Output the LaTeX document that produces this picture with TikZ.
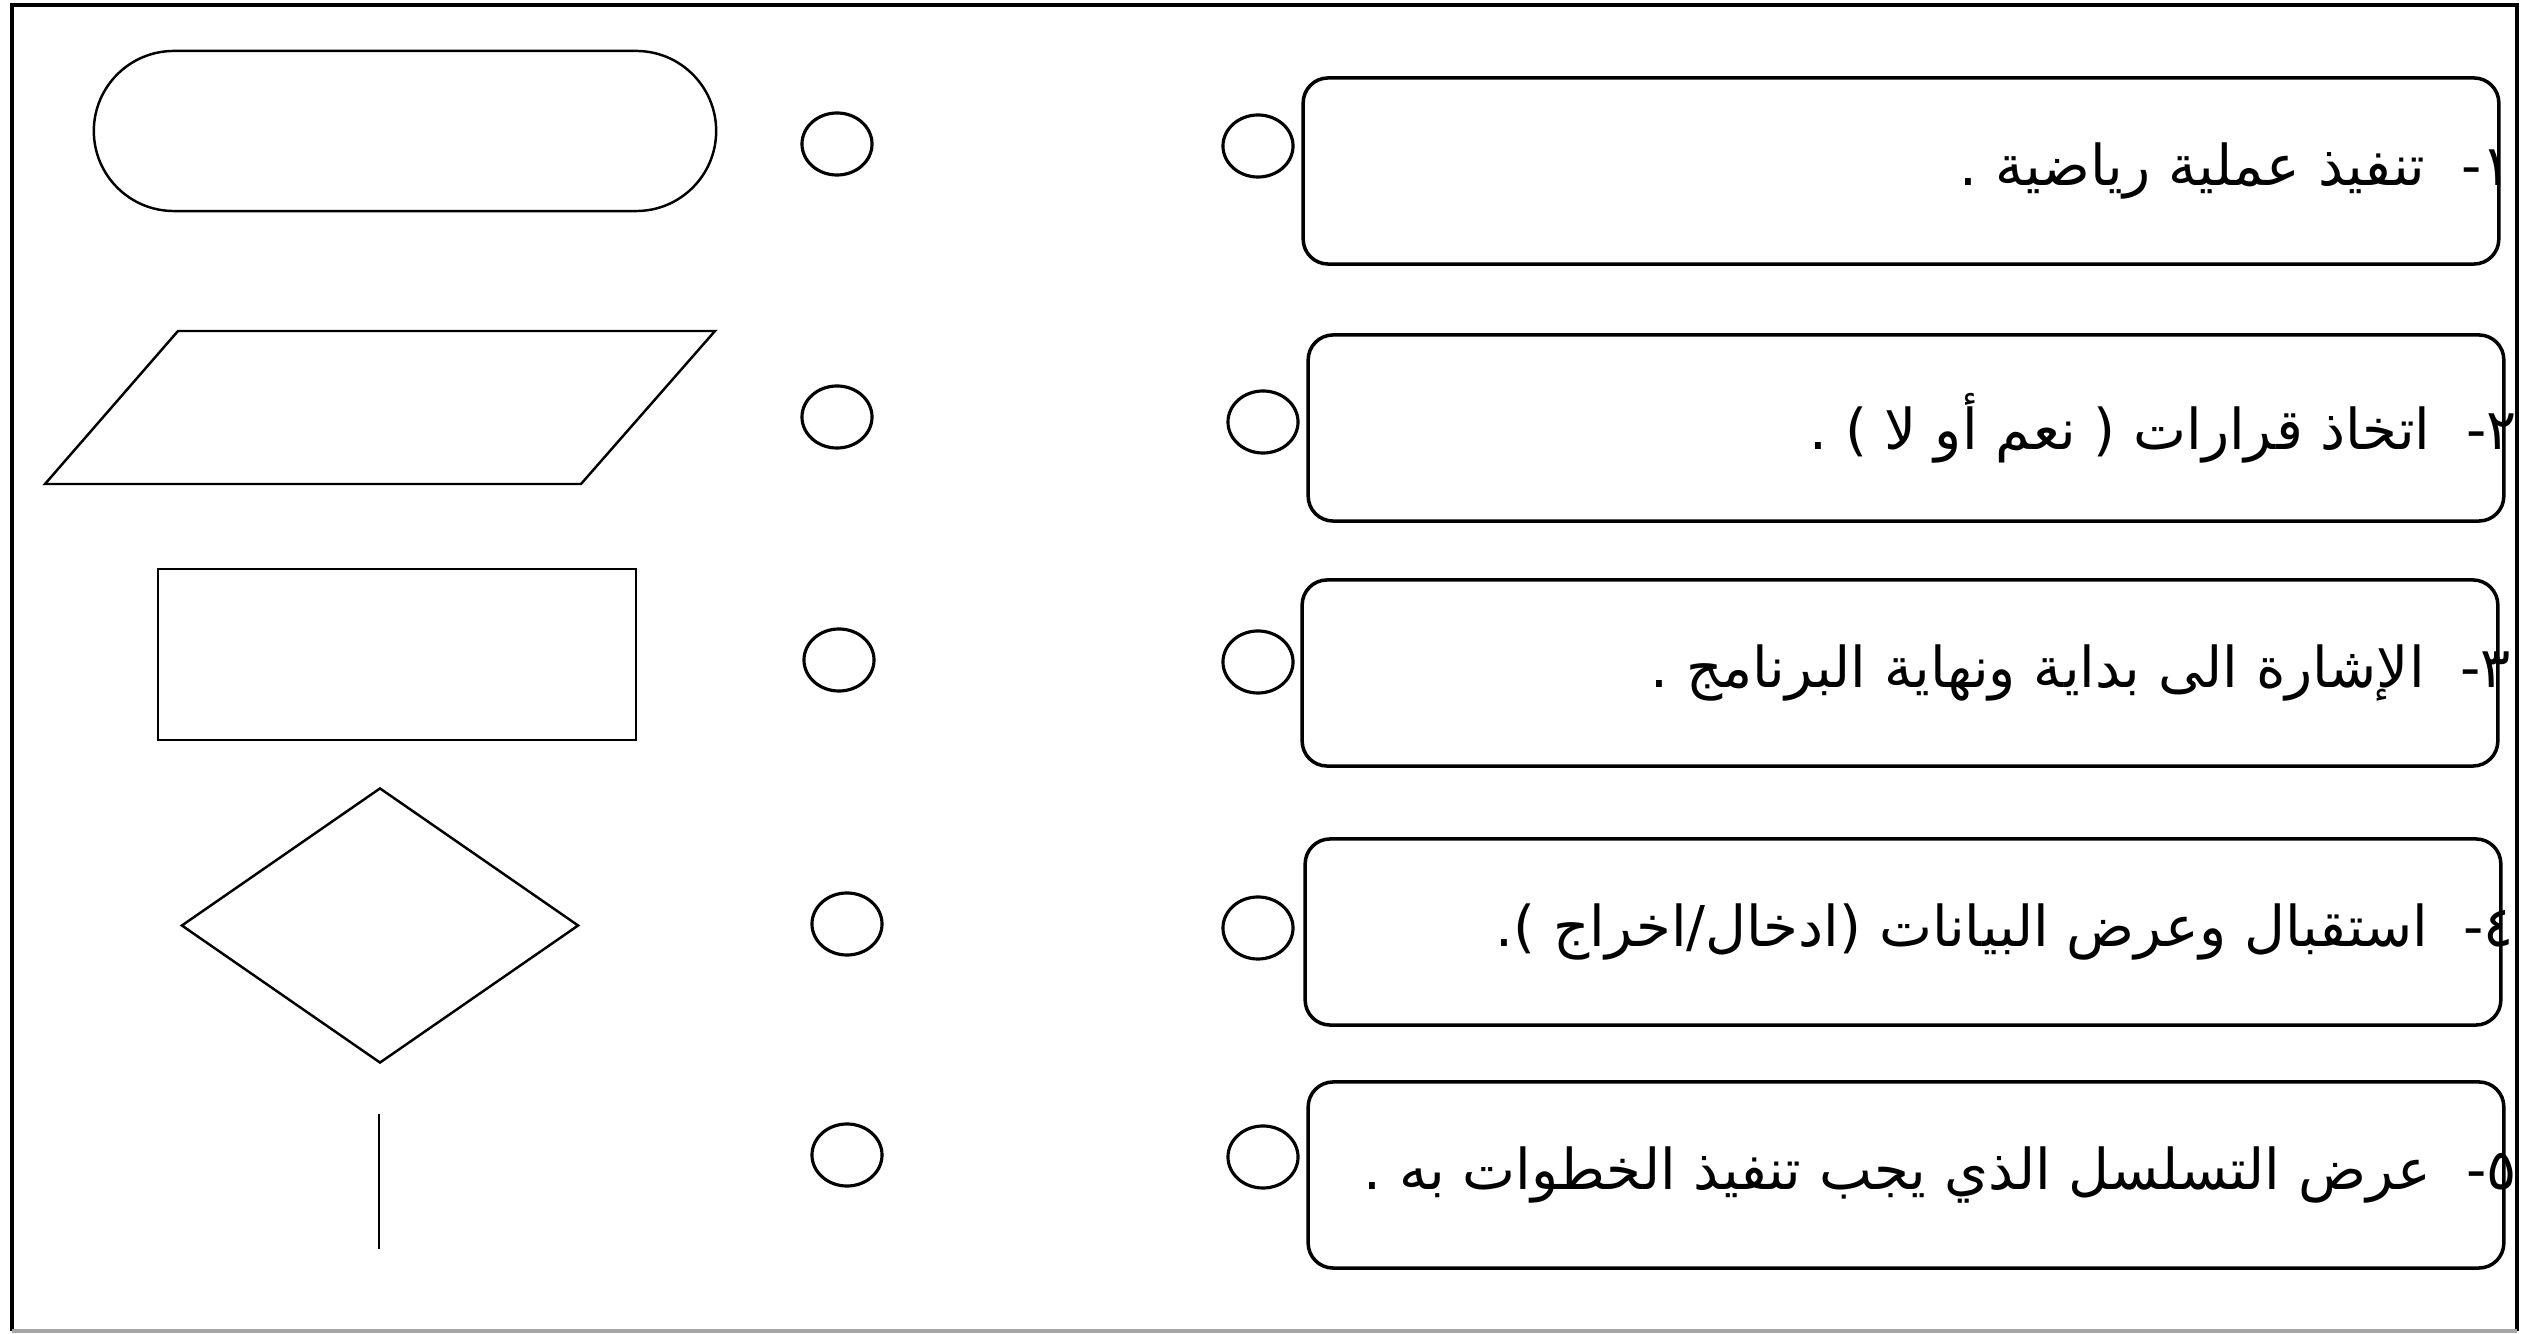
\documentclass[tikz,border=0pt]{standalone}
\usepackage{fontspec}
\newfontfamily\arabicfont[Script=Arabic]{DejaVu Sans}
\TeXXeTstate=1
\usetikzlibrary{shapes.geometric, positioning}

\begin{document}
\begin{tikzpicture}[x=0.01cm, y=-0.01cm,
    symbol/.style={draw, line width=0.7pt, inner sep=0pt},
    bubble/.style={draw, ellipse, line width=0.9pt, minimum width=0.7cm, minimum height=0.62cm, inner sep=0pt},
    answer/.style={draw, rounded corners=0.25cm, line width=1pt, minimum width=11.95cm, minimum height=1.86cm},
    item/.style={anchor=east, inner sep=0pt, xshift=0.12cm, font=\arabicfont\fontsize{16}{20}\selectfont}]
    \useasboundingbox (0,0) rectangle (2535,1334);
    \draw[line width=1.3pt] (12,1331) -- (12,5) -- (2517,5) -- (2517,1331);
    \draw[line width=1pt, black!35] (12,1331) -- (2517,1331);

    \node[symbol, rounded corners=0.8cm, minimum width=6.22cm, minimum height=1.6cm] (term) at (405,131) {};
    \coordinate (io1) at (45,484);
    \coordinate (io2) at (581,484);
    \coordinate (io3) at (715,331);
    \coordinate (io4) at (178,331);
    \draw[symbol] (io1) -- (io2) -- (io3) -- (io4) -- cycle;
    \node[symbol, minimum width=4.78cm, minimum height=1.71cm] (proc) at (397,654.5) {};
    \node[symbol, diamond, minimum width=3.97cm, minimum height=2.75cm] (dec) at (380,925.5) {};
    \coordinate (flowtop) at (379,1114);
    \coordinate (flowbot) at (379,1249);
    \draw[line width=0.7pt] (flowtop) -- (flowbot);

    \node[bubble] (m1) at (837,144) {};
    \node[bubble] (m2) at (837,417) {};
    \node[bubble] (m3) at (839,660) {};
    \node[bubble] (m4) at (847,924) {};
    \node[bubble] (m5) at (847,1155) {};

    \node[answer] (a1) at (1901,171) {};
    \node[answer] (a2) at (1906,428) {};
    \node[answer] (a3) at (1900,673) {};
    \node[answer] (a4) at (1903,932) {};
    \node[answer] (a5) at (1906,1175) {};

    \node[bubble] (r1) at (1258,146) {};
    \node[bubble] (r2) at (1263,422) {};
    \node[bubble] (r3) at (1258,662) {};
    \node[bubble] (r4) at (1258,928) {};
    \node[bubble] (r5) at (1263,1157) {};

    \node[item] (t1) at (a1.east) {\beginR ١-\ \ تنفيذ عملية رياضية .\endR};
    \node[item] (t2) at (a2.east) {\beginR ٢-\ \ اتخاذ قرارات ( نعم أو لا ) .\endR};
    \node[item] (t3) at (a3.east) {\beginR ٣-\ \ الإشارة الى بداية ونهاية البرنامج .\endR};
    \node[item] (t4) at (a4.east) {\beginR ٤-\ \ استقبال وعرض البيانات (ادخال/اخراج ).\endR};
    \node[item] (t5) at (a5.east) {\beginR ٥-\ \ عرض التسلسل الذي يجب تنفيذ الخطوات به .\endR};
\end{tikzpicture}
\end{document}
